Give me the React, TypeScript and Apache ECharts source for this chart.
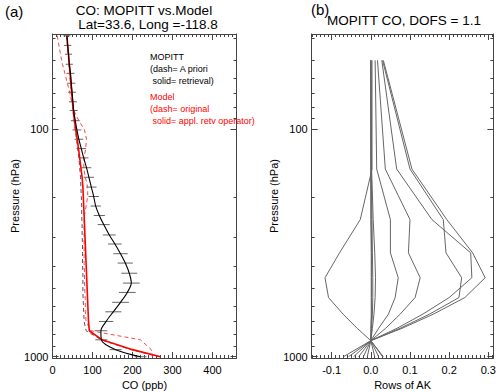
import React, { useEffect, useRef } from "react";
import * as echarts from "echarts";

// ---------- Panel (a) data ----------
const pressureLevels = [39, 43, 47, 52, 57, 63, 69, 76, 83, 92, 101, 111, 122, 134, 148, 163, 180, 198, 218, 240, 263, 292, 320, 353, 388, 430, 475, 522, 577, 635, 700, 769, 843, 931, 1000];
const mopittRetrieval = [36, 38, 40, 42, 45, 47, 49, 51, 53, 57, 61, 66, 72, 78, 85, 91, 97, 103, 108, 117, 128, 142, 156, 170, 182, 192, 197, 187, 170, 152, 134, 121, 122, 158, 220];
const mopittError = [9, 9, 9, 9, 10, 10, 10, 10, 10, 11, 11, 11, 12, 12, 12, 13, 13, 13, 13, 14, 15, 16, 17, 18, 19, 20, 21, 21, 21, 20, 18, 16, 15, 15, 15];
const mopittApriori = [35, 37, 39, 41, 43, 45, 47, 49, 51, 54, 57, 60, 63, 66, 68, 70, 71, 72, 73, 73, 74, 74, 75, 75, 75, 76, 76, 76, 77, 78, 79, 84, 122, 196, 268];
const modelRetv = [36, 38, 40, 42, 44, 46, 48, 50, 52, 55, 58, 62, 65, 68, 71, 74, 76, 77, 78, 79, 80, 81, 82, 83, 84, 85, 86, 87, 88, 89, 90, 92, 124, 200, 270];
const modelOriginal = [12, 16, 20, 25, 31, 37, 43, 48, 53, 66, 80, 85, 83, 79, 78, 82, 88, 88, 84, 80, 79, 79, 79, 79, 79, 80, 80, 81, 82, 82, 84, 96, 220, 247, 250];

// ---------- Panel (b) data: rows of the averaging kernel ----------
const akLevels = [1000, 850, 750, 650, 550, 450, 350, 250, 150, 50];
const akRow1 = [0.03, 0.0, 0.08, 0.16, 0.24, 0.292, 0.26, 0.194, 0.105, 0.032];
const akRow2 = [0.02, 0.0, 0.067, 0.133, 0.2, 0.258, 0.255, 0.156, 0.066, 0.028];
const akRow3 = [0.01, 0.0, 0.075, 0.15, 0.225, 0.232, 0.192, 0.185, 0.1, 0.03];
const akRow4 = [-0.009, 0.0, 0.038, 0.075, 0.113, 0.126, 0.096, 0.1, 0.037, 0.017];
const akRow5 = [-0.019, 0.0, 0.02, 0.045, 0.062, 0.07, 0.05, 0.05, 0.015, 0.011];
const akRow6 = [0.032, 0.0, -0.035, -0.071, -0.108, -0.117, -0.08, -0.027, 0.003, 0.003];
const akRow7 = [-0.044, 0.0, 0.004, 0.008, 0.011, 0.012, 0.01, 0.006, 0.002, 0.0];
const akRow8 = [-0.057, 0.0, 0.002, 0.004, 0.005, 0.005, 0.004, 0.003, 0.001, 0.0];
const akRow9 = [-0.07, 0.0, 0.001, 0.002, 0.002, 0.002, 0.002, 0.001, 0.0, 0.0];
const akRow10 = [-0.031, 0.0, 0.0, 0.001, 0.001, 0.001, 0.001, 0.0, 0.0, 0.0];
const akRows = [akRow1, akRow2, akRow3, akRow4, akRow5, akRow6, akRow7, akRow8, akRow9, akRow10];

// ---------- Axis ticks / labels ----------
const P_MIN = 38.3;
const P_MAX = 1013;
const pressureMajorTicks = [100, 1000];
const pressureMinorTicks = [40, 50, 60, 70, 80, 90, 200, 300, 400, 500, 600, 700, 800, 900];
const coMajorTicks = [0, 100, 200, 300, 400];
const CO_MIN = 0;
const CO_MAX = 460;
const akMajorTicks = [-0.1, 0.0, 0.1, 0.2, 0.3];
const AK_MIN = -0.151;
const AK_MAX = 0.313;

const FONT = "Liberation Sans, Arial, Helvetica, sans-serif";
const AXIS_COLOR = "#444";
const LABEL_SIZE = 11;

const coMinorTicks: number[] = [];
for (let v = 10; v < CO_MAX; v += 10) if (v % 100 !== 0) coMinorTicks.push(v);
const akMinorTicks: number[] = [];
for (let i = -15; i <= 31; i++) if (i % 10 !== 0) akMinorTicks.push(i / 100);

const lg = (v: number) => Math.log10(v);

function xAxesFor(grid: number, min: number, max: number, major: number[], minor: number[], name: string, fmt: (v: number) => string) {
  const base = {
    type: "value" as const,
    gridIndex: grid,
    min,
    max,
    splitLine: { show: false },
  };
  const mk = (position: "bottom" | "top", ticks: number[], len: number, labels: boolean, line: boolean) => ({
    ...base,
    position,
    axisLine: { show: line, onZero: false, lineStyle: { color: AXIS_COLOR, width: 1 } },
    axisTick: { show: true, inside: true, length: len, customValues: ticks, lineStyle: { color: AXIS_COLOR } },
    axisLabel: labels
      ? { show: true, customValues: major, formatter: fmt, color: "#000", fontSize: LABEL_SIZE, fontFamily: FONT, margin: 6 }
      : { show: false },
    ...(labels
      ? { name, nameLocation: "middle", nameGap: 17, nameTextStyle: { color: "#000", fontSize: LABEL_SIZE, fontFamily: FONT } }
      : {}),
  });
  return [
    mk("bottom", major, 6, true, true),
    mk("bottom", minor, 3, false, false),
    mk("top", major, 6, false, true),
    mk("top", minor, 3, false, false),
  ];
}

function yAxesFor(grid: number, nameGap: number) {
  const ymin = lg(P_MIN);
  const ymax = lg(P_MAX);
  const mk = (position: "left" | "right", ticks: number[], len: number, labels: boolean, line: boolean) => ({
    type: "value" as const,
    gridIndex: grid,
    min: ymin,
    max: ymax,
    inverse: true,
    position,
    splitLine: { show: false },
    axisLine: { show: line, onZero: false, lineStyle: { color: AXIS_COLOR, width: 1 } },
    axisTick: { show: true, inside: true, length: len, customValues: ticks.map(lg), lineStyle: { color: AXIS_COLOR } },
    axisLabel: labels
      ? {
          show: true,
          customValues: pressureMajorTicks.map(lg),
          formatter: (v: number) => String(Math.round(Math.pow(10, v))),
          color: "#000",
          fontSize: LABEL_SIZE,
          fontFamily: FONT,
          margin: 4,
        }
      : { show: false },
    ...(labels
      ? { name: "Pressure (hPa)", nameLocation: "middle", nameGap, nameTextStyle: { color: "#000", fontSize: LABEL_SIZE, fontFamily: FONT } }
      : {}),
  });
  return [
    {
      type: "log" as const,
      gridIndex: grid,
      min: P_MIN,
      max: P_MAX,
      inverse: true,
      position: "left" as const,
      splitLine: { show: false },
      axisLine: { show: true, onZero: false, lineStyle: { color: AXIS_COLOR, width: 1 } },
      axisTick: { show: false },
      axisLabel: { show: false },
    },
    mk("left", pressureMajorTicks, 6, true, false),
    mk("left", pressureMinorTicks, 3, false, false),
    mk("right", pressureMajorTicks, 6, false, true),
    mk("right", pressureMinorTicks, 3, false, false),
  ];
}

const fmtCO = (v: number) => String(Math.round(v));
const fmtAK = (v: number) => (Math.abs(v) < 1e-9 ? "0.0" : v.toFixed(1));

function profile(values: number[]) {
  return values.map((v, i) => [v, pressureLevels[i]]);
}

export default function App() {
  const ref = useRef<HTMLDivElement>(null);
  useEffect(() => {
    if (!ref.current) return;
    const chart = echarts.init(ref.current, undefined, { renderer: "svg" });

    const errData = mopittRetrieval.map((v, i) => [v - mopittError[i], v + mopittError[i], pressureLevels[i]]);

    const akSeries = akRows.map((row) => ({
      type: "line",
      xAxisIndex: 4,
      yAxisIndex: 5,
      data: row.map((v, i) => [v, akLevels[i]]),
      showSymbol: false,
      symbol: "none",
      lineStyle: { color: "#666", width: 1 },
      z: 2,
    }));

    const legendText = (text: string, y: number, color: string) => ({
      type: "text",
      x: 150,
      y,
      z: 10,
      style: { text, fontSize: 9, fontFamily: FONT, fill: color },
    });

    const option: any = {
      animation: false,
      backgroundColor: "#fff",
      textStyle: { fontFamily: FONT },
      grid: [
        { left: 52.5, top: 34, width: 184, height: 324, outerBoundsMode: "none", containLabel: false },
        { left: 311.7, top: 34, width: 181.7, height: 324, outerBoundsMode: "none", containLabel: false },
      ],
      xAxis: [
        ...xAxesFor(0, CO_MIN, CO_MAX, coMajorTicks, coMinorTicks, "CO (ppb)", fmtCO),
        ...xAxesFor(1, AK_MIN, AK_MAX, akMajorTicks, akMinorTicks, "Rows of AK", fmtAK),
      ],
      yAxis: [...yAxesFor(0, 31), ...yAxesFor(1, 31)],
      series: [
        {
          type: "custom",
          xAxisIndex: 0,
          yAxisIndex: 0,
          data: errData,
          encode: { x: [0, 1], y: 2 },
          renderItem: (params: any, api: any) => {
            const p = api.value(2);
            const a = api.coord([api.value(0), p]);
            const b = api.coord([api.value(1), p]);
            return {
              type: "line",
              shape: { x1: a[0], y1: a[1], x2: b[0], y2: b[1] },
              style: { stroke: "#666", lineWidth: 1 },
            };
          },
          z: 1,
        },
        {
          type: "line",
          xAxisIndex: 0,
          yAxisIndex: 0,
          data: profile(mopittApriori),
          showSymbol: false,
          symbol: "none",
          lineStyle: { color: "#555", width: 1, type: [4, 3] },
          z: 2,
        },
        {
          type: "line",
          xAxisIndex: 0,
          yAxisIndex: 0,
          data: profile(modelOriginal),
          showSymbol: false,
          symbol: "none",
          lineStyle: { color: "#ff4444", width: 1, type: [4, 3] },
          z: 3,
        },
        {
          type: "line",
          xAxisIndex: 0,
          yAxisIndex: 0,
          data: profile(modelRetv),
          showSymbol: false,
          symbol: "none",
          lineStyle: { color: "#ff0000", width: 1.6 },
          z: 4,
        },
        {
          type: "line",
          xAxisIndex: 0,
          yAxisIndex: 0,
          data: profile(mopittRetrieval),
          showSymbol: false,
          symbol: "none",
          smooth: 0.3,
          lineStyle: { color: "#000", width: 1.1 },
          z: 5,
        },
        ...akSeries,
      ],
      graphic: [
        { type: "text", left: 5, top: 4, style: { text: "(a)", fontSize: 15, fontFamily: FONT, fill: "#000" } },
        { type: "text", x: 144, y: 3.5, style: { text: "CO: MOPITT vs.Model", fontSize: 13.5, fontFamily: FONT, fill: "#000", align: "center" } },
        { type: "text", x: 148, y: 17.5, style: { text: "Lat=33.6, Long =-118.8", fontSize: 13.5, fontFamily: FONT, fill: "#000", align: "center" } },
        { type: "text", left: 311, top: 2, style: { text: "(b)", fontSize: 15, fontFamily: FONT, fill: "#000" } },
        { type: "text", x: 404, y: 13, style: { text: "MOPITT CO, DOFS = 1.1", fontSize: 13.5, fontFamily: FONT, fill: "#000", align: "center" } },
        legendText("MOPITT", 52, "#000"),
        legendText("(dash= A priori", 64, "#000"),
        legendText(" solid= retrieval)", 76, "#000"),
        legendText("Model", 92, "#ff0000"),
        legendText("(dash= original", 104, "#ff0000"),
        legendText(" solid= appl. retv operator)", 116, "#ff0000"),
      ],
    };
    chart.setOption(option);
    return () => chart.dispose();
  }, []);
  return <div ref={ref} style={{ position: "fixed", left: 0, top: 0, width: 500, height: 392 }} />;
}
